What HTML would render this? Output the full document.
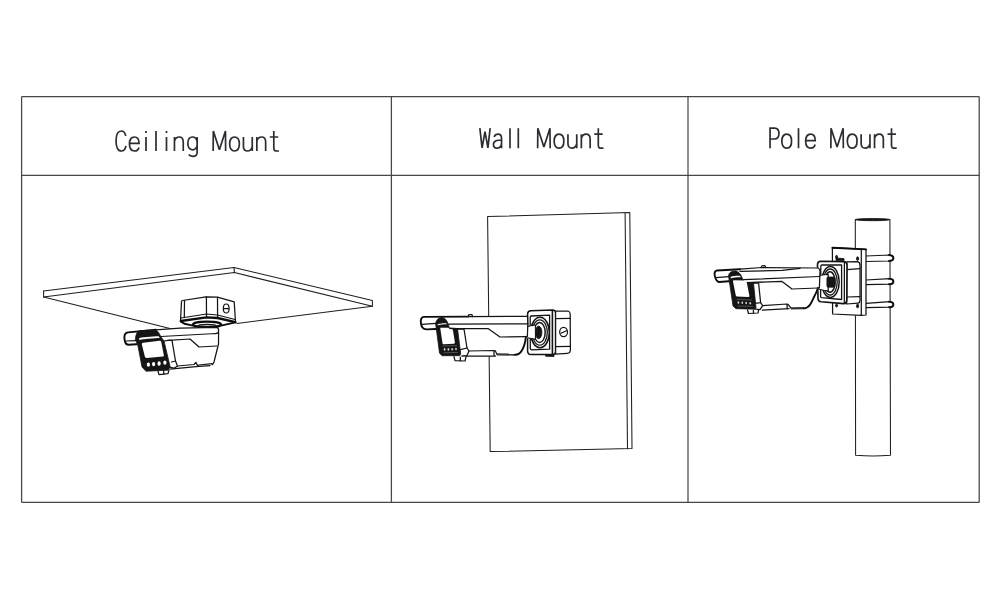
<!DOCTYPE html>
<html lang="en">
<head>
<meta charset="utf-8">
<title>Mounting options: Ceiling Mount, Wall Mount, Pole Mount</title>
<style>
  html, body { margin: 0; padding: 0; background: #ffffff; }
  body { width: 1000px; height: 600px; overflow: hidden; font-family: "Liberation Sans", sans-serif; }
  svg { display: block; position: absolute; left: 0; top: 0; }
  .frame { fill: none; stroke: #474747; stroke-width: 1.25; }
  .ln { fill: none; stroke: #141414; stroke-width: 1.25; stroke-linecap: round; stroke-linejoin: round; }
  .lnw { fill: #ffffff; stroke: #141414; stroke-width: 1.25; stroke-linecap: round; stroke-linejoin: round; }
  .pan { fill: none; stroke: #1e1e1e; stroke-width: 1.05; stroke-linecap: round; stroke-linejoin: round; }
  .thin { fill: none; stroke: #2a2a2a; stroke-width: 0.8; stroke-linecap: round; stroke-linejoin: round; }
  .thk { fill: none; stroke: #0c0c0c; stroke-width: 1.9; stroke-linecap: round; stroke-linejoin: round; }
  .blk { fill: #151515; stroke: #151515; stroke-width: 0.8; stroke-linejoin: round; }
  .wht { fill: #ffffff; stroke: none; }
  .gly { fill: none; stroke: #2b2d31; stroke-width: 1.7; stroke-linecap: butt; stroke-linejoin: miter; stroke-miterlimit: 3; }
  .hid { fill: #000; fill-opacity: 0; font-size: 26px; font-family: "Liberation Sans", sans-serif; }
</style>
</head>
<body>
<svg width="1000" height="600" viewBox="0 0 1000 600" role="img" aria-label="Ceiling Mount, Wall Mount, Pole Mount">
  <defs>
    <!-- thin monoline glyphs; origin = left ink edge on baseline, cap height 20, x-height 14 -->
    <path id="gC" d="M10.58,-15 C9.90,-18.4 8.19,-20 6.14,-20 C2.73,-20 0.85,-16 0.85,-10 C0.85,-4 2.73,0 6.14,0 C8.36,0 10.07,-1.8 10.75,-5.2"/>
    <path id="ge" d="M1.02,-7.6 L10.45,-7.6 C10.45,-11.8 8.67,-14 5.78,-14 C2.72,-14 0.85,-11.2 0.85,-7 C0.85,-2.8 2.72,0 5.95,0 C8.16,0 9.69,-1.2 10.37,-3.6"/>
    <path id="gi" d="M0,-14 L0,0 M0,-20 L0,-18"/>
    <path id="gl" d="M0,-20 L0,0"/>
    <path id="gn" d="M0.85,-14 L0.85,0 M0.85,-9.6 C1.52,-12.4 3.20,-14 5.54,-14 C8.39,-14 9.65,-12 9.65,-9 L9.65,0"/>
    <path id="gg" d="M10.15,-14 L10.15,1.2 C10.15,4.2 8.46,5.4 5.75,5.4 C3.89,5.4 2.54,4.8 1.70,3.6 M10.15,-9.4 C9.47,-12.4 7.78,-14 5.58,-14 C2.54,-14 0.85,-11.2 0.85,-7.6 C0.85,-3.8 2.54,-1.2 5.58,-1.2 C7.78,-1.2 9.47,-2.8 10.15,-5.6"/>
    <path id="gM" d="M0.85,0 L1.03,-20 L7.10,-1.2 L13.17,-20 L13.35,0"/>
    <path id="go" d="M5.70,-14 C2.55,-14 0.85,-11 0.85,-7 C0.85,-3 2.55,0 5.70,0 C8.85,0 10.55,-3 10.55,-7 C10.55,-11 8.85,-14 5.70,-14 Z"/>
    <path id="gu" d="M0.85,-14 L0.85,-4.6 C0.85,-1.6 2.36,0 4.87,0 C7.22,0 8.90,-1.6 9.65,-4.4 M9.65,-14 L9.65,0"/>
    <path id="gt" d="M4,-20 L4,-3 C4,-0.8 5,0 7,0 L9.2,0 M0,-14 L8.4,-14"/>
    <path id="gW" d="M0.85,-20 L3.08,-0.4 L6.00,-16.5 L8.92,-0.4 L11.15,-20"/>
    <path id="ga" d="M1.51,-11.2 C2.34,-13.2 3.83,-14 5.48,-14 C7.96,-14 8.95,-12.2 8.95,-9.6 L8.95,0 M8.95,-8.2 C4.98,-8.2 0.85,-7.6 0.85,-3.6 C0.85,-1.2 2.34,0 4.32,0 C6.47,0 8.12,-1.4 8.95,-4"/>
    <path id="gP" d="M0.85,0 L0.85,-20 L5.38,-20 C8.41,-20 9.75,-17.6 9.75,-14.6 C9.75,-11.4 8.41,-9.2 5.38,-9.2 L0.85,-9.2"/>
    <g id="wMount">
      <use href="#gM" x="0"/><use href="#go" x="16.5"/><use href="#gu" x="30.3"/><use href="#gn" x="43.7"/><use href="#gt" x="57.5"/>
    </g>
  </defs>

  <rect x="0" y="0" width="1000" height="600" fill="#ffffff"/>

  <!-- table frame -->
  <rect class="frame" x="21.6" y="96.7" width="957.6" height="405.7" rx="0.5" ry="0.5"/>
  <line class="frame" x1="21.6" y1="175.3" x2="979.2" y2="175.3"/>
  <line class="frame" x1="391.4" y1="96.7" x2="391.4" y2="502.4"/>
  <line class="frame" x1="688" y1="96.7" x2="688" y2="502.4"/>

  <!-- header labels (real text kept invisible for semantics, drawn as monoline glyphs) -->
  <text class="hid" x="115" y="151">Ceiling Mount</text>
  <text class="hid" x="479" y="148">Wall Mount</text>
  <text class="hid" x="769" y="148">Pole Mount</text>

  <g class="gly" transform="translate(0,151)">
    <use href="#gC" x="115.2"/><use href="#ge" x="128.6"/><use href="#gi" x="146"/><use href="#gl" x="156"/><use href="#gi" x="166.5"/><use href="#gn" x="173.6"/><use href="#gg" x="187"/>
    <use href="#wMount" x="212.3"/>
  </g>
  <g class="gly" transform="translate(0,148.2)">
    <use href="#gW" x="479"/><use href="#ga" x="492.6"/><use href="#gl" x="510"/><use href="#gl" x="518.3"/>
    <use href="#wMount" x="536.8"/>
  </g>
  <g class="gly" transform="translate(0,148.2)">
    <use href="#gP" x="769.2"/><use href="#go" x="781"/><use href="#gl" x="798.5"/><use href="#ge" x="804.8"/>
    <use href="#wMount" x="830"/>
  </g>

  <!-- ===== CEILING PANEL ===== -->
  <g id="ceiling">
    <path class="pan" d="M43.6,291 L234,267.4 L372.4,300.6 L372.4,306.2 L237,323.4"/>
    <path class="pan" d="M43.6,291 L43.6,297 L234.4,272.6 L372.4,306.2"/>
    <path class="pan" d="M234,267.4 L234.4,272.6"/>
    <path class="pan" d="M43.6,297 L170,328.4"/>
  </g>

  <!-- ===== WALL PANEL ===== -->
  <g id="wall">
    <path class="pan" d="M487.6,216.6 L629.8,212.6 L632,448.4 L490.2,451.6 Z"/>
    <path class="pan" d="M625.1,213 L627.5,448.8"/>
  </g>

  <!-- ===== POLE ===== -->
  <g id="pole">
    <path class="pan" d="M855.3,219.6 L855.6,455.2 Q873,456.6 890.5,455.2 L889.9,219.6"/>
    <ellipse class="blk" cx="872.6" cy="219.6" rx="17.3" ry="1.1"/>
  </g>


  <!-- ===== side-view camera (defined in wall-mount coordinates) ===== -->
  <defs>
    <g id="camSide">
      <!-- silhouette -->
      <path class="wht" d="M424,316.9 L468,316.6 L469,314.6 L472,314.6 L472.6,316.6 L527.5,316.4 L527.8,337 L522,349.5 Q520,354.5 515,354.6 L497,354.6 L495.5,356.2 L466,356.4 L465,361 L455,360.6 L454,356.5 L442,355.6 L439.5,353 L436,329 L426.5,329.4 C423,329.3 421,326 420.8,322 C420.6,319.5 421.5,317 424,316.9 Z"/>
      <!-- visor -->
      <path class="thk" d="M436,329 L426.5,329.4 C423,329.3 421,326 420.8,322 C420.6,319.5 421.5,317 424,316.9 L468,316.6"/>
      <path class="ln" d="M468,316.6 L527.5,316.4"/>
      <path class="ln" d="M468,316.6 L469,314.6 L472,314.6 L472.6,316.6"/>
      <path class="ln" d="M422,324.3 L435.8,323.4"/>
      <path class="ln" d="M448.6,324.2 L527.8,323.9"/>
      <!-- body -->
      <path class="ln" d="M449.5,328.6 L488,328.5 L500,337 L526,336.6"/>
      <path class="ln" d="M457.5,329 L464,329 L467,348 L460.5,349.6"/>
      <path class="ln" d="M467,348 L469,351 L467,355.6 L462,356.2"/>
      <path class="ln" d="M469,351 L494,350.5 L495.3,350.8 L497,354.4 M494,350.5 L494,355.6"/>
      <path class="ln" d="M462,356.2 L495.5,356"/>
      <path d="M497,354.4 L515,354.6" fill="none" stroke="#3a3a3a" stroke-width="2.2"/>
      <path class="thk" d="M526,336.6 C525.2,343 523.8,347.4 522,350.2 C520.4,353.2 518,354.6 515,354.7"/>
      <path class="ln" d="M527.5,316.4 L527.8,324 L527.4,336.6"/>
      <!-- foot -->
      <path class="lnw" d="M454,356.6 L455,360.6 L465,361 L466,356.8"/>
      <path class="ln" d="M460.3,357 L460.3,360.8"/>
      <!-- front hood (dark) -->
      <path class="blk" d="M435.6,323.5 C436.4,319.6 438.6,317.6 441.6,317.5 C445,317.5 447,320.4 448.3,324.4 L449.4,327.9 L457.5,328.5 L460.7,354 L459.6,355.7 L442,355.7 L439.5,353 Z"/>
      <path class="wht" d="M437.6,324.6 C438.4,323.6 445,322.9 446.6,323.4 L447,324.4 C445,324.2 439,324.8 437.8,325.6 Z"/>
      <path class="wht" d="M441.2,327.7 L448.4,327.7 L449.6,329.1 L452,329.2 Q452.8,329.3 452.9,330 L454.9,342.6 Q455,343.6 454,343.7 L443.6,344.2 Q442.7,344.2 442.5,343.2 L440.3,328.6 Q440.2,327.6 441.2,327.6 Z"/>
      <g fill="#c8c8c8">
        <ellipse cx="444.6" cy="349.4" rx="0.9" ry="1.3"/><ellipse cx="448.4" cy="349.4" rx="0.9" ry="1.3"/><ellipse cx="452.2" cy="349.2" rx="0.9" ry="1.3"/><ellipse cx="456" cy="349" rx="0.9" ry="1.3"/>
      </g>
      <path d="M442.6,346 L457,345.6 M443.6,352.8 L458,352.4" fill="none" stroke="#8a8a8a" stroke-width="0.5"/>
    </g>

    <g id="boxWall">
      <!-- front face with rim -->
      <path class="lnw" style="stroke-width:1.5" d="M531,310.7 L552.5,310 Q555.6,310 555.6,313 L555.6,351.6 Q555.6,354.6 552.6,354.6 L531,354.6 Q527.7,354.4 527.6,351 L527.6,313.8 Q527.7,310.9 531,310.7 Z"/>
      <path class="ln" style="stroke-width:1.3" d="M531.4,316 L549.6,315.2 L549.6,349.2 L531.6,349.8 Q530.4,349.6 530.3,348.4 L530.2,317.4 Q530.3,316.1 531.4,316 Z"/>
      <path class="ln" style="stroke-width:1.6" d="M552.4,310.6 L552.4,354.2"/>
      <!-- side face -->
      <path class="lnw" d="M555.6,311 L567.2,311 Q570.2,311.2 570.2,314.8 L570.4,349.8 Q570.4,353.2 567.4,353.3 L555.6,354.2 Z"/>
      <path class="ln" d="M555.6,318.6 L570.2,318.4 M555.6,346.6 L570.4,346.4"/>
      <ellipse class="ln" style="stroke-width:1.2" cx="563.6" cy="332" rx="3.9" ry="4.6"/>
      <path class="ln" d="M561,333.3 L566.4,330.7"/>
      <!-- mount rings -->
      <ellipse class="ln" style="stroke-width:1.5" cx="540" cy="332.5" rx="9.3" ry="15.2"/>
      <ellipse class="ln" style="stroke-width:1.3" cx="539.8" cy="332.5" rx="7.5" ry="12.7"/>
      <ellipse class="ln" style="stroke-width:1.5" cx="539.6" cy="332.5" rx="5.6" ry="9.9"/>
      <!-- neck -->
      <path class="lnw" d="M527.6,326.6 L535.2,325 L535.4,339.2 L527.6,337.6 Z"/>
      <ellipse class="blk" cx="538.6" cy="332.4" rx="3.3" ry="6.3"/>
      <path class="wht" d="M527,327.2 L534.6,325.7 L534.8,338.5 L527,336.9 Z"/>
      <!-- foot -->
      <path class="blk" d="M545.6,354.8 L554,354.8 L554,356.6 L545.6,356.2 Z"/>
    </g>
  </defs>

  <!-- wall mount -->
  <use href="#boxWall"/>
  <use href="#camSide"/>


  <!-- ===== pole mount: clamps, plate, box, camera ===== -->
  <g id="poleMount">
    <!-- hose clamps -->
    <path class="lnw" d="M866,256 L890,255 Q893.4,255.4 893.4,258 Q893.4,260.8 890,261 L866,261.5"/>
    <path class="lnw" d="M866,280 L890,278.6 Q893.4,279 893.4,281.4 Q893.4,284 890,284.2 L866,284.6"/>
    <path class="lnw" d="M866,303.4 L890,301.6 Q893.4,302 893.4,304.4 Q893.4,307 890,307.2 L866,307.6"/>
    <path class="thk" d="M889,255 Q893.4,255.4 893.4,258 Q893.4,260.8 889,261 M889,278.6 Q893.4,279 893.4,281.4 Q893.4,284 889,284.2 M889,301.6 Q893.4,302 893.4,304.4 Q893.4,307 889,307.2"/>
    <!-- back plate -->
    <path class="lnw" d="M832.4,247.7 L866,249.4 L866,315 L861.3,315.4 L832.6,314 Z"/>
    <path class="ln" d="M861.3,249.2 L861.3,315.4"/>
    <path class="thk" d="M832.4,247.7 L866,249.4"/>
    <ellipse class="blk" cx="836.6" cy="257" rx="1" ry="1.7"/><ellipse class="blk" cx="857.6" cy="258.6" rx="1.1" ry="1.9"/>
    <ellipse class="blk" cx="836.6" cy="305.6" rx="1.1" ry="1.4"/><ellipse class="blk" cx="857.6" cy="306" rx="1.1" ry="1.9"/>
    <path class="blk" d="M836,258 L844,258.6 L844,260.8 L836,260.6 Z"/>
    <!-- box side -->
    <path class="lnw" d="M846.8,261.8 L857.4,261.6 Q860,262 860,265.4 L860,300 Q860,303 858,303.1 L846.6,304 Z"/>
    <path class="ln" d="M847,269.6 L860,268.6 M847,297 L860,296.6"/>
    <!-- box front with rim -->
    <path class="lnw" style="stroke-width:1.6" d="M820.6,261.2 L844,261.6 Q847,262 847,265 L846.8,300.4 Q846.6,303.7 843.4,303.6 L821,301.7 Q818,301.3 818,298.4 L817.5,264.4 Q817.6,261.3 820.6,261.2 Z"/>
    <path class="ln" style="stroke-width:1.3" d="M822,265 L841.6,265 L841.6,299.5 L821.6,297.7 Q820.6,297.5 820.6,296.4 L820.8,266.2 Q820.9,265.1 822,265 Z"/>
    <path class="ln" d="M844.4,261.8 L844.3,303.5"/>
    <ellipse class="ln" style="stroke-width:1.5" cx="830.4" cy="282" rx="8.8" ry="15.4"/>
    <ellipse class="ln" style="stroke-width:1.3" cx="830.2" cy="282" rx="7" ry="13"/>
    <ellipse class="ln" style="stroke-width:1.5" cx="830" cy="282" rx="5.2" ry="10.2"/>
    <path class="lnw" d="M819,275.6 L828.2,274.4 L828.2,291 L818,289 Z"/>
    <rect class="blk" x="826.6" y="277" width="8.2" height="10.2" rx="1.6"/>
    <path class="wht" d="M816.2,276.3 L826.4,275.2 L826.4,289.9 L816,288 Z"/>
  </g>
  <g id="camPole">
    <path class="wht" d="M717,270.5 L761,267.5 L762,265.8 L765,265.7 L765.6,267.4 L818,268 L820,271 L819.4,288 L814,297 L810,305 L804,308.2 L791,308.4 L789,309 L759,310.4 L758,313 L748.5,313.5 L747.5,310 L736,308.6 L733,306 L729,281.3 L719,282 C716.4,281.6 715.4,278.6 714.7,275.4 C714.2,272.6 715,270.8 717,270.5 Z"/>
    <!-- visor -->
    <path class="thk" d="M729,281.3 L719,282 C716.4,281.6 715.4,278.6 714.7,275.4 C714.2,272.6 715,270.8 717,270.5 L740,269.2"/>
    <path class="ln" d="M740,269.2 L762,267.5 L818,268 Q819.8,268.6 820,271 L819.4,288"/>
    <path class="ln" d="M761,267.5 L762,265.8 L765,265.7 L765.6,267.4"/>
    <path class="ln" d="M740,271.4 L782,270.4 L800,268.4"/>
    <path class="ln" d="M715.6,277.6 L729,276.6"/>
    <path class="ln" d="M743.6,279.6 L819.6,276.5"/>
    <!-- body -->
    <path class="ln" d="M746,282.6 L782,281.4 L792,289 L818,288"/>
    <path class="ln" d="M753.4,283 L758.6,283 L760.6,302.6 L755,303.4"/>
    <path class="ln" d="M760.6,302.6 L762.6,305.6 L760,309.6 L755.4,309.2"/>
    <path class="ln" d="M762.6,305.6 L787,304 L788.4,304.8 L791,308 M787,304 L787.2,308.6"/>
    <path class="ln" d="M762.4,310.2 L789,308.6"/>
    <path d="M791,308.3 L804,308.1" fill="none" stroke="#333" stroke-width="2.2"/>
    <path class="thk" d="M818,288 C816.6,292 815.4,294.6 814,297 C812.4,300.4 811.4,302.8 810,304.8 C808.6,306.8 806.6,308.2 804,308.4"/>
    <!-- foot -->
    <path class="lnw" d="M747.5,310 L748.5,313.5 L758,313 L758.6,310.2"/>
    <path class="ln" d="M753.4,310.4 L753.5,313.2"/>
    <!-- hood (dark) -->
    <path class="blk" d="M728.5,275.6 C729.2,272.6 731,271.2 734,271 C738,270.8 740.4,273.6 742,277.4 C743.2,280.2 744.4,282 746,282.6 L753.5,283 L756,307.6 L755,309.2 L736,308.7 L733,306 Z"/>
    <path class="wht" d="M730.5,277 C731.4,276.2 738.6,275.5 740.2,276 L740.8,277.2 C738.6,276.9 732,277.6 730.8,278.2 Z"/>
    <path class="wht" d="M734,280.2 L744,280.6 Q746.4,281 746.9,283 L749.4,295.8 Q749.6,297 748.4,297 L737.2,296.6 Q736,296.5 735.8,295.4 L733,281.4 Q732.9,280.2 734,280.2 Z"/>
    <g fill="#c8c8c8">
      <ellipse cx="738.4" cy="302.6" rx="0.9" ry="1.3"/><ellipse cx="742.3" cy="302.8" rx="0.9" ry="1.3"/><ellipse cx="746.2" cy="303" rx="0.9" ry="1.3"/><ellipse cx="750.2" cy="303.2" rx="0.9" ry="1.3"/>
    </g>
    <path d="M736.6,299.4 L752,300 M737.6,306 L753,306.4" fill="none" stroke="#8a8a8a" stroke-width="0.5"/>
  </g>

  <!-- ===== ceiling mount: junction box + camera ===== -->
  <g id="ceilBox">
    <path class="wht" d="M181.5,301 L206,296.8 L217.5,297.2 L234.4,301.8 L235.5,322 L221,326 L193,326 L184,323.5 L180.5,321 Z"/>
    <path class="ln" d="M180.5,321 L181.5,301.4 Q181.6,300.7 182.6,300.5 L206,296.8 L217.5,297.2 L234.2,301.8 L235.5,322"/>
    <path class="ln" d="M184.5,300.6 L184.3,317.6 M206.4,296.9 L206.5,317.4 M217.5,297.3 L217.6,318"/>
    <path class="ln" d="M181,318 L206.5,314 L217.5,315 L235,319.5"/>
    <path class="thk" style="stroke-width:2.4" d="M180.8,321 L206.5,317.4 L217.5,318 L235.4,322.2"/>
    <path class="thk" d="M181,321.6 L184.4,323.8 L193,325.6 M221,325.6 L235.4,322.4"/>
    <ellipse class="thk" style="fill:#fff;stroke-width:2.2" cx="207" cy="324.4" rx="14" ry="2.8"/>
    <ellipse class="ln" style="stroke-width:1.5" cx="207" cy="326" rx="9" ry="1.6"/>
    <ellipse class="ln" style="stroke-width:1.2" cx="226.2" cy="308.5" rx="2.9" ry="4.5"/>
    <path class="ln" d="M223.6,308.5 L228.8,308.5"/>
  </g>
  <g id="camCeil">
    <path class="wht" d="M128,332.4 L156,329.8 L180,328.2 L216.6,327.4 Q218.6,327.6 218.6,330.4 L218.5,344 L214,362 L212,364.6 L210,365.6 L196,366.6 L170,369.2 L169,370.2 L168,373.6 L159,374.6 L158,371 L146,371 L142,367 L136.4,344.2 L128.4,344.8 C125.4,344.4 124.5,341 124.4,337.6 C124.3,334.4 125.8,332.7 128,332.4 Z"/>
    <!-- visor -->
    <path class="thk" d="M136.4,344.2 L128.4,344.8 C125.4,344.4 124.5,341 124.4,337.6 C124.3,334.4 125.8,332.7 128,332.4 L156,329.8"/>
    <path class="ln" d="M156,329.8 L180,328.2 L216.6,327.4 Q218.6,327.6 218.6,330.4 L218.5,344 L214,362 Q213.4,364 212,364.6"/>
    <path class="ln" d="M125.8,341 L135.6,340.6"/>
    <path class="ln" d="M161,336.5 L216,333.5 Q217.8,333.5 218.5,332"/>
    <!-- body -->
    <path class="ln" d="M164,341 L168,340.4 L190,339 L199,347 L216.6,346"/>
    <path class="ln" d="M168,340.4 L172,340.4 L175.5,361 L171.5,362"/>
    <path class="ln" d="M175.5,361 L177.5,366 L174,368.2 L170.4,367.4"/>
    <path class="ln" d="M177.5,366 L194,364.5 L196,362.5 L197.5,365.6 L199,365 L212,363.6"/>
    <path class="ln" d="M170,369.2 L196,366.6 L210,365.6"/>
    <!-- foot -->
    <path class="lnw" d="M158,371 L159,374.6 L168,373.6 L169,370"/>
    <path class="ln" d="M163.6,371 L163.8,374"/>
    <!-- hood (dark) -->
    <path class="blk" d="M135.4,339.6 C135.8,333.4 137.6,331 140,330.7 L154.6,330 C157.6,330.2 159.4,333.4 161,337 L164,341 L170.2,367 L168,370.2 L146,371.2 L142,367 L138,346 Z"/>
    <path class="wht" d="M138.8,338.3 C139.6,337.5 157.6,336 158.8,336.4 L159.8,338 C157,338 141,339.2 139.6,340 Z"/>
    <path class="wht" d="M143.2,342.8 L159.6,340.7 Q161,340.6 161.2,341.8 L163.9,355.4 Q164,356.5 162.8,356.6 L146.6,357.9 Q145.2,358 144.9,356.8 L141.8,344.2 Q141.6,343 143.2,342.8 Z"/>
    <g class="wht">
      <ellipse cx="148.4" cy="364.6" rx="1.6" ry="2.2"/><ellipse cx="153.6" cy="364.1" rx="1.6" ry="2.2"/><ellipse cx="159.1" cy="363.5" rx="1.6" ry="2.2"/><ellipse cx="164.9" cy="362.6" rx="1.6" ry="2.2"/>
    </g>
  </g>

  <!--CAMERAS3-->
</svg>
</body>
</html>
